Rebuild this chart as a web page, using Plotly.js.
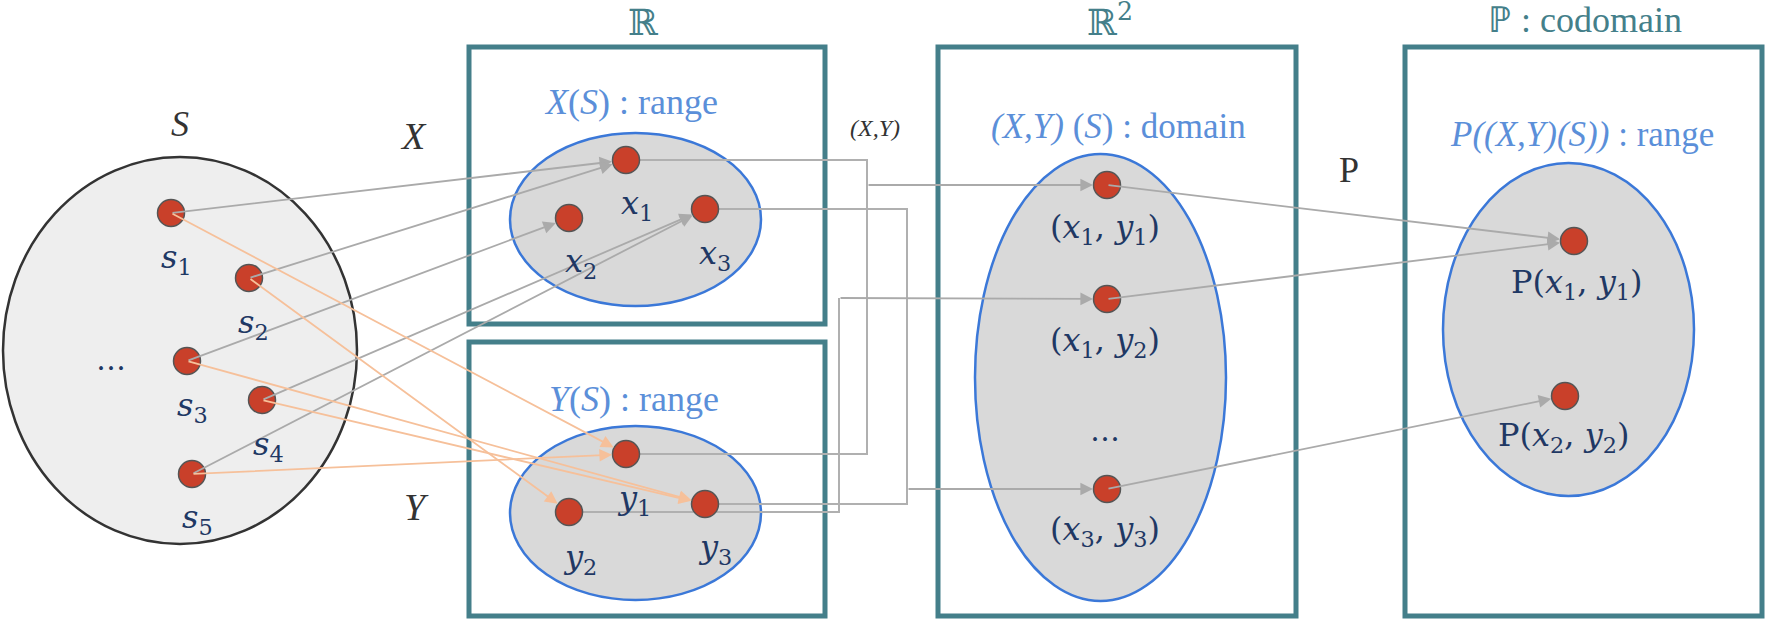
<!DOCTYPE html>
<html>
<head>
<meta charset="utf-8">
<script src="https://cdn.plot.ly/plotly-3.0.1.min.js"></script>
<style>html,body{margin:0;padding:0;background:#fff}#chart{width:1765px;height:619px}</style>
</head>
<body>
<div id="chart"></div>
<script>
// nodes: name, x, y (diagram units = pixels)
const nodeNames = ['s1','s2','s3','s4','s5','x1','x2','x3','y1','y2','y3','p11','p12','p33','P1','P2'];
const nodeX = [171,249,187,262,192, 626,569,705, 626,569,705, 1107,1107,1107, 1574,1565];
const nodeY = [213,278,361,400,474, 160,218,209, 454,512,504, 185,299,489, 241,396];

const grayLinks = [['s1','x1'],['s2','x1'],['s3','x2'],['s4','x3'],['s5','x3'],['p11','P1'],['p12','P1'],['p33','P2']];
const orangeLinks = [['s1','y1'],['s2','y2'],['s3','y3'],['s4','y3'],['s5','y1']];

// elbow connectors (x1/y1, x3/y3, y2) and their branches
const elbowX = [[626,867,867,626],[705,907,907,705],[569,839,839]];
const elbowY = [[160,160,454,454],[209,209,504,504],[512,512,298]];
const branchLinks = [[867,185,'p11'],[907,489,'p33'],[839,298,'p12']];

const labelText = ['<i>s</i><sub>1</sub>','<i>s</i><sub>2</sub>','<i>s</i><sub>3</sub>','<i>s</i><sub>4</sub>','<i>s</i><sub>5</sub>',
  '<i>x</i><sub>1</sub>','<i>x</i><sub>2</sub>','<i>x</i><sub>3</sub>','<i>y</i><sub>1</sub>','<i>y</i><sub>2</sub>','<i>y</i><sub>3</sub>',
  '(<i>x</i><sub>1</sub>, <i>y</i><sub>1</sub>)','(<i>x</i><sub>1</sub>, <i>y</i><sub>2</sub>)','(<i>x</i><sub>3</sub>, <i>y</i><sub>3</sub>)',
  'P(<i>x</i><sub>1</sub>, <i>y</i><sub>1</sub>)','P(<i>x</i><sub>2</sub>, <i>y</i><sub>2</sub>)'];
const labelX = [176,253,192,268,197, 637,581,715, 634,580,715, 1105,1105,1105, 1576,1563];
const labelY = [259,324,407,446,519, 205,263,255, 500,559,549, 229,342,531, 284,437];

const idx = n => nodeNames.indexOf(n);
const navy = '#1f3864', blue = '#5b8fd9', teal = '#447f8a';

const traces = [];
elbowX.forEach((xs, i) => traces.push({x: xs, y: elbowY[i], mode: 'lines', line: {color: '#b0b0b0', width: 2}, hoverinfo: 'skip'}));
traces.push({x: nodeX, y: nodeY, mode: 'markers', marker: {size: 27, color: '#c9402a', line: {color: '#555', width: 1.5}}, hoverinfo: 'skip'});

const ann = [];
function arrow(x0, y0, x1, y1, color) {
  ann.push({x: x1, y: y1, ax: x0, ay: y0, xref: 'x', yref: 'y', axref: 'x', ayref: 'y', text: '',
    showarrow: true, arrowhead: 2, arrowsize: 1.4, arrowwidth: 1.8, arrowcolor: color, standoff: 14});
}
grayLinks.forEach(([a, b]) => arrow(nodeX[idx(a)], nodeY[idx(a)], nodeX[idx(b)], nodeY[idx(b)], '#aaaaaa'));
orangeLinks.forEach(([a, b]) => arrow(nodeX[idx(a)], nodeY[idx(a)], nodeX[idx(b)], nodeY[idx(b)], '#f6c09a'));
branchLinks.forEach(([x, y, b]) => arrow(x, y, nodeX[idx(b)], nodeY[idx(b)], '#aaaaaa'));

function txt(x, y, t, size, color, fam) {
  ann.push({x: x, y: y, xref: 'x', yref: 'y', text: t, showarrow: false,
    font: {size: size, color: color, family: fam || 'DejaVu Serif'}});
}
labelText.forEach((t, i) => txt(labelX[i], labelY[i], t, 32, navy));
txt(111, 359, '…', 30, navy);
txt(1105, 430, '…', 30, navy);
txt(180, 124, '<i>S</i>', 36, '#333', 'Liberation Serif');
txt(413, 136, '<i>X</i>', 38, '#333', 'Liberation Serif');
txt(416, 507, '<i>Y</i>', 38, '#333', 'Liberation Serif');
txt(875, 128, '<i>(X,Y)</i>', 24, '#333', 'Liberation Serif');
txt(1349, 170, 'P', 36, '#333', 'Liberation Serif');
txt(643, 22, 'ℝ', 36, teal);
txt(1110, 20, 'ℝ<sup>2</sup>', 36, teal);
txt(1585, 20, 'ℙ : codomain', 36, teal, 'Liberation Serif');
txt(631, 102, '<i>X</i>(<i>S</i>) : range', 36, blue, 'Liberation Serif');
txt(634, 399, '<i>Y</i>(<i>S</i>) : range', 36, blue, 'Liberation Serif');
txt(1118, 126, '<i>(X,Y)</i> (<i>S</i>) : domain', 35, blue, 'Liberation Serif');
txt(1582, 134, '<i>P((X,Y)(S))</i> : range', 35, blue, 'Liberation Serif');

const boxLine = {color: teal, width: 5};
const ellLine = {color: '#3b78d8', width: 2.5};
const shapes = [
  {type: 'circle', x0: 3, x1: 357, y0: 157, y1: 544, fillcolor: '#eeeeee', line: {color: '#333', width: 2.5}, layer: 'below'},
  {type: 'rect', x0: 469, x1: 825, y0: 47, y1: 324, line: boxLine, layer: 'below'},
  {type: 'rect', x0: 469, x1: 825, y0: 342, y1: 616, line: boxLine, layer: 'below'},
  {type: 'rect', x0: 938, x1: 1296, y0: 47, y1: 616, line: boxLine, layer: 'below'},
  {type: 'rect', x0: 1405, x1: 1762, y0: 47, y1: 616, line: boxLine, layer: 'below'},
  {type: 'circle', x0: 510, x1: 761, y0: 133, y1: 306, fillcolor: '#d9d9d9', line: ellLine, layer: 'below'},
  {type: 'circle', x0: 510, x1: 761, y0: 426, y1: 600, fillcolor: '#d9d9d9', line: ellLine, layer: 'below'},
  {type: 'circle', x0: 975, x1: 1226, y0: 154, y1: 601, fillcolor: '#d9d9d9', line: ellLine, layer: 'below'},
  {type: 'circle', x0: 1443, x1: 1694, y0: 163, y1: 496, fillcolor: '#d9d9d9', line: ellLine, layer: 'below'}
];

const layout = {
  width: 1765, height: 619, margin: {l: 0, r: 0, t: 0, b: 0},
  paper_bgcolor: '#fff', plot_bgcolor: '#fff', showlegend: false,
  xaxis: {range: [0, 1765], visible: false, fixedrange: true},
  yaxis: {range: [619, 0], visible: false, fixedrange: true},
  shapes: shapes, annotations: ann
};
Plotly.newPlot('chart', traces, layout, {staticPlot: true});
</script>
</body>
</html>
